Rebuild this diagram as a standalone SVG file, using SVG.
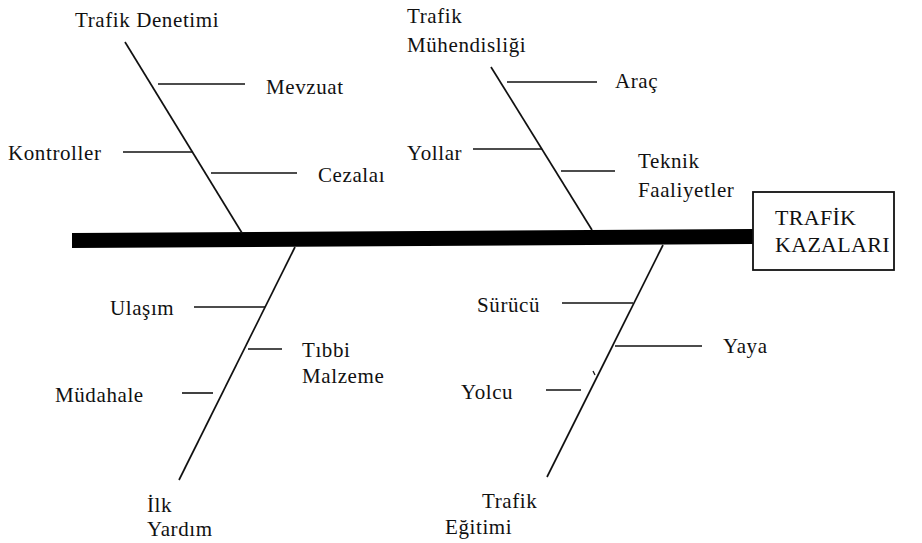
<svg xmlns="http://www.w3.org/2000/svg" width="922" height="543" viewBox="0 0 922 543">
<style>
text{font-family:"Liberation Serif","Times New Roman",serif;font-size:21px;fill:#111;letter-spacing:0.6px}
.bone{stroke:#111;stroke-width:1.7;fill:none}
.br{stroke:#111;stroke-width:1.6;fill:none}
.big{font-size:22px;letter-spacing:0.3px}
</style>
<rect width="922" height="543" fill="#fff"/>
<g id="connectors">
<polygon points="72,233 753,229 753,244 72,248" fill="#000"/>
<line class="bone" x1="125" y1="42" x2="242" y2="233"/>
<line class="bone" x1="491" y1="67" x2="592" y2="230"/>
<line class="bone" x1="295" y1="247" x2="179" y2="480"/>
<line class="bone" x1="663" y1="245" x2="547" y2="477"/>
<line class="br" x1="158" y1="84" x2="245" y2="84"/>
<line class="br" x1="123" y1="152" x2="193" y2="152"/>
<line class="br" x1="211" y1="173" x2="297" y2="173"/>
<line class="br" x1="507" y1="82" x2="597" y2="82"/>
<line class="br" x1="473" y1="149" x2="542" y2="149"/>
<line class="br" x1="561" y1="171" x2="615" y2="171"/>
<line class="br" x1="194" y1="307" x2="265" y2="307"/>
<line class="br" x1="248" y1="349" x2="282" y2="349"/>
<line class="br" x1="182" y1="393" x2="213" y2="393"/>
<line class="br" x1="562" y1="303" x2="633" y2="303"/>
<line class="br" x1="615" y1="346" x2="702" y2="346"/>
<line class="br" x1="546" y1="390" x2="581" y2="390"/>
<line stroke="#111" stroke-width="1.2" x1="593" y1="371" x2="595" y2="375"/>
</g>
<g id="head">
<rect x="753" y="192" width="141" height="78" fill="#fff" stroke="#111" stroke-width="1.8"/>
<text class="big" x="775" y="225">TRAFİK</text>
<text class="big" x="775" y="252">KAZALARI</text>
</g>
<g id="trafik-denetimi">
<text x="75" y="27">Trafik Denetimi</text>
<text x="266" y="94">Mevzuat</text>
<text x="8" y="160">Kontroller</text>
<text x="318" y="182">Cezalaı</text>
</g>
<g id="trafik-muhendisligi">
<text x="407" y="23">Trafik</text>
<text x="407" y="52">Mühendisliği</text>
<text x="615" y="88">Araç</text>
<text x="407" y="160">Yollar</text>
<text x="638" y="168">Teknik</text>
<text x="638" y="197">Faaliyetler</text>
</g>
<g id="ilk-yardim">
<text x="147" y="512">İlk</text>
<text x="110" y="315">Ulaşım</text>
<text x="302" y="357">Tıbbi</text>
<text x="302" y="383">Malzeme</text>
<text x="55" y="402">Müdahale</text>
<text x="147" y="536">Yardım</text>
</g>
<g id="trafik-egitimi">
<text x="477" y="312">Sürücü</text>
<text x="723" y="353">Yaya</text>
<text x="461" y="399">Yolcu</text>
<text x="482" y="508">Trafik</text>
<text x="445" y="534">Eğitimi</text>
</g>
</svg>
